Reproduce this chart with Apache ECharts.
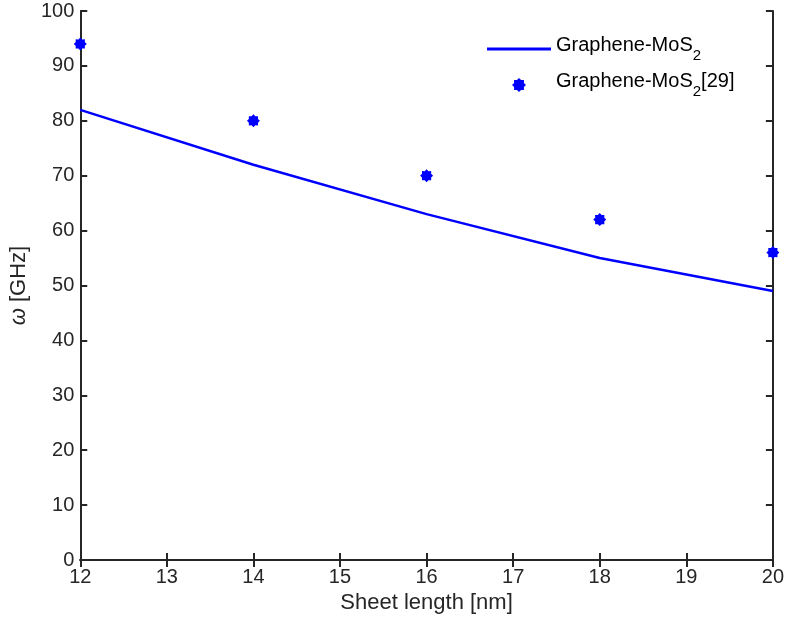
<!DOCTYPE html>
<html>
<head>
<meta charset="utf-8">
<script src="https://cdn.jsdelivr.net/npm/echarts@6/dist/echarts.min.js"></script>
<style>html,body{margin:0;padding:0;background:#fff;}#c{width:787px;height:621px;}</style>
</head>
<body>
<div id="c"></div>
<script>
// Data
var sheetLength = [12, 14, 16, 18, 20];
var modelOmega = [82, 72, 63, 55, 49];
var refOmega = [94, 80, 70, 62, 56];
var seriesNames = ['Graphene-MoS2', 'Graphene-MoS2[29]'];
var xTicks = [12, 13, 14, 15, 16, 17, 18, 19, 20];
var yTicks = [0, 10, 20, 30, 40, 50, 60, 70, 80, 90, 100];

// asterisk-like star symbol
function starPath(n, rOut, rIn) {
  var pts = [];
  for (var k = 0; k < 2 * n; k++) {
    var a = Math.PI * k / n;
    var r = k % 2 === 0 ? rOut : rIn;
    pts.push((50 + r * Math.cos(a)).toFixed(2) + ' ' + (50 + r * Math.sin(a)).toFixed(2));
  }
  return 'path://M' + pts.join(' L') + ' Z';
}
var star = starPath(8, 50, 38);
// legend line icon: thin bar inside a 64x14 bounding box
var lineIcon = 'path://M0 0 M64 14 M0 5.6 L64 5.6 L64 8.4 L0 8.4 Z';

var axisColor = '#262626';
var font = 'Liberation Sans, Arial, Helvetica, sans-serif';
var chart = echarts.init(document.getElementById('c'), null, {renderer: 'canvas'});

function pair(a) { return a.map(function (v, i) { return [sheetLength[i], v]; }); }

var baseX = {
  type: 'value', min: xTicks[0], max: xTicks[xTicks.length - 1], interval: 1,
  axisLine: {show: true, lineStyle: {color: axisColor, width: 2}},
  axisTick: {show: true, inside: true, length: 7, lineStyle: {color: axisColor, width: 2}},
  splitLine: {show: false}
};
var baseY = {
  type: 'value', min: yTicks[0], max: yTicks[yTicks.length - 1], interval: 10,
  axisLine: {show: true, lineStyle: {color: axisColor, width: 2}},
  axisTick: {show: true, inside: true, length: 7, lineStyle: {color: axisColor, width: 2}},
  splitLine: {show: false}
};

var rich = {
  a: {fontSize: 20, fontFamily: font, color: '#000', verticalAlign: 'top', lineHeight: 20},
  s: {fontSize: 15, fontFamily: font, color: '#000', verticalAlign: 'bottom', lineHeight: 28}
};

chart.setOption({
  animation: false,
  backgroundColor: '#fff',
  grid: {left: 79, right: 14, top: 11, bottom: 61},
  legend: {
    orient: 'vertical', left: 487, top: 35, padding: 0, itemGap: 8,
    itemWidth: 64, itemHeight: 14,
    data: [{name: seriesNames[0], icon: lineIcon, itemStyle: {color: '#0000ff'}}, {name: seriesNames[1]}],
    formatter: function (name) {
      if (name === seriesNames[0]) return '{a|Graphene-MoS}{s|2}';
      return '{a|Graphene-MoS}{s|2}{a|[29]}';
    },
    textStyle: {rich: rich}
  },
  xAxis: [
    Object.assign({}, baseX, {
      position: 'bottom',
      name: 'Sheet length [nm]', nameLocation: 'middle', nameGap: 30,
      nameTextStyle: {fontSize: 22, fontFamily: font, color: axisColor},
      axisLabel: {show: true, fontSize: 20, fontFamily: font, color: axisColor, margin: 7}
    }),
    Object.assign({}, baseX, {position: 'top', axisLabel: {show: false}})
  ],
  yAxis: [
    Object.assign({}, baseY, {
      position: 'left',
      name: '{w|ω} [GHz]', nameLocation: 'middle', nameGap: 39,
      nameTextStyle: {fontSize: 22, fontFamily: font, color: axisColor,
        rich: {w: {fontSize: 22, fontFamily: font, fontStyle: 'italic', color: axisColor}}},
      axisLabel: {show: true, fontSize: 20, fontFamily: font, color: axisColor, margin: 6}
    }),
    Object.assign({}, baseY, {position: 'right', axisLabel: {show: false}})
  ],
  series: [
    {
      name: seriesNames[0], type: 'line', data: pair(modelOmega),
      xAxisIndex: 0, yAxisIndex: 0,
      symbol: 'none', showSymbol: false, smooth: false,
      lineStyle: {color: '#0000ff', width: 2.5},
      itemStyle: {color: '#0000ff'}
    },
    {
      name: seriesNames[1], type: 'scatter', data: pair(refOmega),
      xAxisIndex: 0, yAxisIndex: 0,
      symbol: star, symbolSize: 13,
      itemStyle: {color: '#0000ff', opacity: 1}
    }
  ]
});
</script>
</body>
</html>
